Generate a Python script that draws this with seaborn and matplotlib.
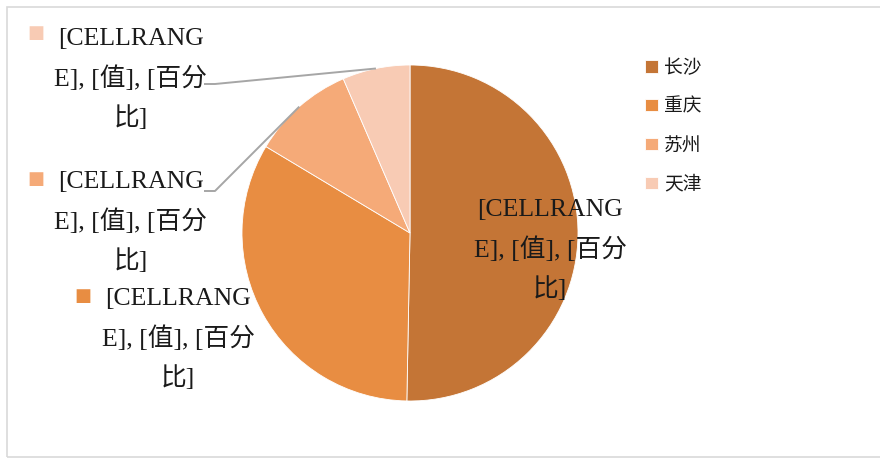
#!/usr/bin/env python3

import matplotlib
matplotlib.use('Agg')
import matplotlib.pyplot as plt
from matplotlib.patches import Rectangle
import seaborn as sns
import numpy as np

cities = ['长沙', '重庆', '苏州', '天津']
shares = [50.3, 33.3, 9.9, 6.5]
colors = ['#C47536', '#E88D42', '#F5AA78', '#F8CBB4']
label_text = '[CELLRANG\nE], [值], [百分\n比]'

# label layout in pixel coords (x centre, y centre), key square position, leader elbow
label_pos = [(550, 209), (178, 120), (131, 237), (131, 380)]
key_pos = [None, (83, 163), (36, 280), (36, 426)]
elbow = [None, None, (215, 268), (215, 375)]


def plot_pie():
    sns.set_theme(style="white")
    plt.rcParams['font.family'] = ['Liberation Serif', 'Noto Sans CJK SC']

    fig = plt.figure(figsize=(8.8, 4.59), dpi=100)
    ax = fig.add_axes([0, 0, 1, 1])
    cx, cy, r = 410, 226, 168
    wedges, _ = ax.pie(shares, colors=colors, startangle=90, counterclock=False,
                       center=(cx, cy), radius=r,
                       wedgeprops=dict(edgecolor='white', linewidth=0.6))
    ax.set_xlim(0, 880)
    ax.set_ylim(0, 459)
    ax.set_aspect('auto')
    ax.axis('off')

    for i, w in enumerate(wedges):
        ax.text(*label_pos[i], label_text, ha='center', va='center',
                fontsize=18.5, linespacing=1.72, color='#1a1a1a')
        if key_pos[i] is not None:
            ax.text(*key_pos[i], '■', family='DejaVu Sans', ha='center',
                    va='center', fontsize=13, color=colors[i])
        if elbow[i] is not None:
            mid = np.deg2rad((w.theta1 + w.theta2) / 2)
            px, py = cx + r * np.cos(mid), cy + r * np.sin(mid)
            ex, ey = elbow[i]
            ax.plot([px, ex, ex - 11], [py, ey, ey], color='#A6A6A6', lw=1.4,
                    solid_capstyle='butt')

    leg = ax.legend(wedges, cities, loc='upper left',
                    bbox_to_anchor=(636 / 880, 1 - 50 / 459),
                    frameon=False, fontsize=13.5, handlelength=0.65,
                    handleheight=0.65, handletextpad=0.35, labelspacing=1.15,
                    borderpad=0)
    for t in leg.get_texts():
        t.set_color('#1a1a1a')

    ax.add_patch(Rectangle((6.5, 2), 900, 450, fill=False,
                           edgecolor='#D9D9D9', lw=1.2, clip_on=False))
    fig.savefig('out.png', dpi=100)


def main():
    plot_pie()


if __name__ == "__main__":
    main()
